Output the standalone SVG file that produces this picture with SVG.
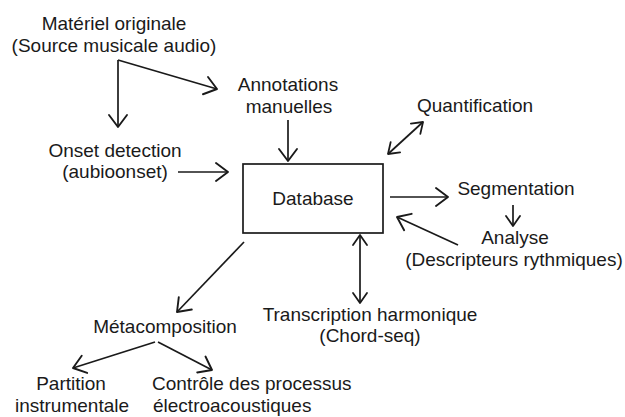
<svg xmlns="http://www.w3.org/2000/svg" width="625" height="417" viewBox="0 0 625 417">
<style>
text{font-family:"Liberation Sans",Arial,Helvetica,sans-serif;font-size:19px;fill:#1a1a1a;text-anchor:middle}
.l{text-anchor:start}
.c{stroke:#1a1a1a;stroke-width:1.7;fill:none}
.box{fill:#fff;stroke:#1a1a1a;stroke-width:1.7}
</style>
<defs>
<marker id="big" markerUnits="userSpaceOnUse" markerWidth="30" markerHeight="30" refX="0" refY="0" orient="auto" overflow="visible">
<path d="M-12,-9 L0,0 L-12,9" fill="none" stroke="#1a1a1a" stroke-width="1.9" stroke-linecap="round" stroke-linejoin="round"/>
</marker>
<marker id="sm" markerUnits="userSpaceOnUse" markerWidth="30" markerHeight="30" refX="0" refY="0" orient="auto-start-reverse" overflow="visible">
<path d="M-10,-7 L0,0 L-10,7" fill="none" stroke="#1a1a1a" stroke-width="1.8" stroke-linecap="round" stroke-linejoin="round"/>
</marker>
</defs>
<g id="connectors">
<line class="c" x1="118" y1="60" x2="118" y2="127" marker-end="url(#big)"/>
<line class="c" x1="118" y1="60" x2="217" y2="89" marker-end="url(#big)"/>
<line class="c" x1="288" y1="120" x2="288" y2="161" marker-end="url(#big)"/>
<line class="c" x1="178" y1="172" x2="228" y2="172" marker-end="url(#big)"/>
<line class="c" x1="423" y1="122" x2="388" y2="154" marker-start="url(#sm)" marker-end="url(#sm)"/>
<line class="c" x1="390" y1="197" x2="448" y2="197" marker-end="url(#big)"/>
<line class="c" x1="513" y1="205" x2="513" y2="226" marker-end="url(#sm)"/>
<line class="c" x1="458" y1="245" x2="397" y2="217" marker-end="url(#big)"/>
<line class="c" x1="360" y1="235" x2="360" y2="303" marker-start="url(#sm)" marker-end="url(#sm)"/>
<line class="c" x1="244" y1="242" x2="177" y2="312" marker-end="url(#big)"/>
<line class="c" x1="155" y1="342" x2="73" y2="368" marker-end="url(#big)"/>
<line class="c" x1="158" y1="342" x2="212" y2="370" marker-end="url(#big)"/>
</g>
<g id="materiel"><text x="114" y="30">Matériel originale</text><text x="114" y="52">(Source musicale audio)</text></g>
<g id="annotations"><text x="288" y="91">Annotations</text><text x="289" y="113">manuelles</text></g>
<g id="onset"><text x="115" y="157">Onset detection</text><text x="115" y="178">(aubioonset)</text></g>
<g id="quantification"><text x="475" y="112">Quantification</text></g>
<g id="database"><rect class="box" x="243" y="164" width="140" height="69"/><text x="313" y="205">Database</text></g>
<g id="segmentation"><text x="516" y="195">Segmentation</text></g>
<g id="analyse"><text x="515" y="244">Analyse</text><text x="514" y="266">(Descripteurs rythmiques)</text></g>
<g id="transcription"><text x="370" y="321">Transcription harmonique</text><text x="370" y="342">(Chord-seq)</text></g>
<g id="metacomposition"><text x="165" y="333">Métacomposition</text></g>
<g id="partition"><text x="71" y="390">Partition</text><text x="72" y="412">instrumentale</text></g>
<g id="controle"><text class="l" x="152" y="390">Contrôle des processus</text><text class="l" x="153" y="412">électroacoustiques</text></g>
</svg>
